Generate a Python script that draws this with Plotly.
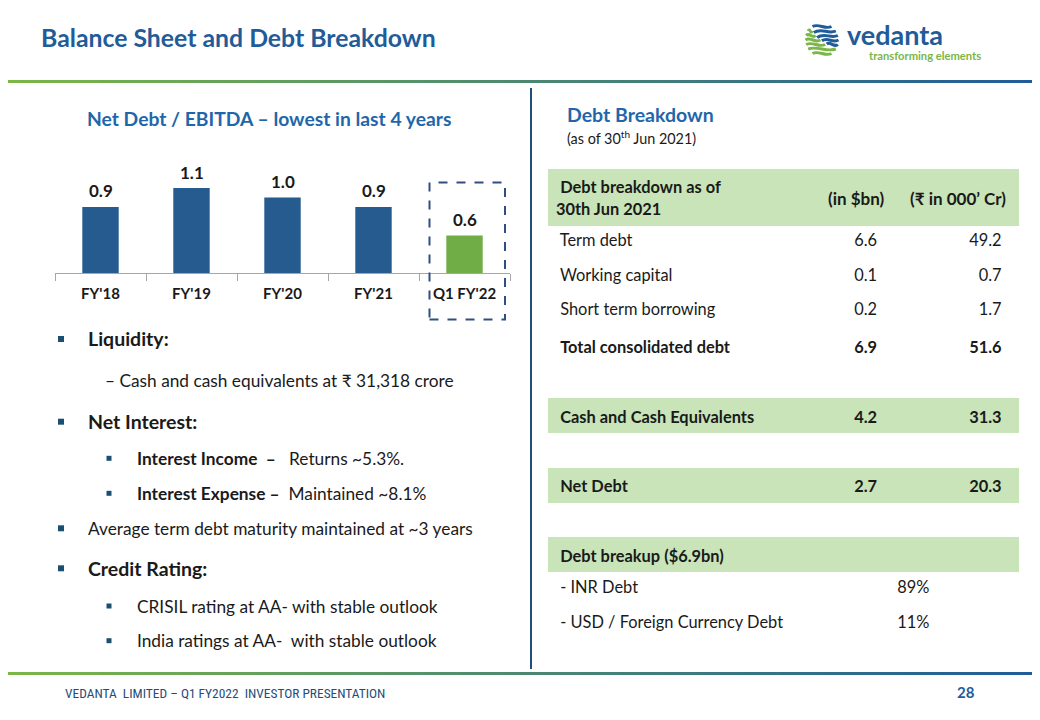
import plotly.graph_objects as go
import math

W, H = 1040, 720
OFF = 8  # page body margin of the html page

# ---------------- data ----------------
slide_title = "Balance Sheet and Debt Breakdown"
chart_title = "Net Debt / EBITDA – lowest in last 4 years"
categories = ["FY'18", "FY'19", "FY'20", "FY'21", "Q1 FY'22"]
net_debt_ebitda = [0.9, 1.1, 1.0, 0.9, 0.6]

bullet_texts = [
    "<b>Liquidity:</b>",
    "– Cash and cash equivalents at ₹ 31,318 crore",
    "<b>Net Interest:</b>",
    "<b>Interest Income \u00a0–</b> \u00a0 Returns ~5.3%.",
    "<b>Interest Expense –</b> \u00a0Maintained ~8.1%",
    "Average term debt maturity maintained at ~3 years",
    "<b>Credit Rating:</b>",
    "CRISIL rating at AA- with stable outlook",
    "India ratings at AA- \u00a0with stable outlook",
]
bullet_levels = [1, 0, 1, 2, 2, 1, 1, 2, 2]  # 0 = dash line (no square)

table_title = "Debt Breakdown"
table_subtitle = "(as of 30<sup>th</sup> Jun 2021)"
table_headers = ["Debt breakdown as of<br>30th Jun 2021", "(in $bn)", "(₹ in 000’ Cr)"]

debt_items = ["Term debt", "Working capital", "Short term borrowing", "Total consolidated debt"]
debt_usd_bn = [6.6, 0.1, 0.2, 6.9]
debt_inr_000cr = [49.2, 0.7, 1.7, 51.6]

cash_label = "Cash and Cash Equivalents"
cash_usd_bn = 4.2
cash_inr_000cr = 31.3

net_debt_label = "Net Debt"
net_debt_usd_bn = 2.7
net_debt_inr_000cr = 20.3

breakup_title = "Debt breakup ($6.9bn)"
breakup_items = ["- INR Debt", "- USD / Foreign Currency Debt"]
breakup_pct = [89, 11]

logo_name = "vedanta"
logo_tagline = "transforming elements"
footer_text = "VEDANTA \u00a0LIMITED – Q1 FY2022 \u00a0INVESTOR PRESENTATION"
page_number = "28"

# ---------------- styles ----------------
BLUE = "#1F5C99"
BAR_BLUE = "#265B8F"
BAR_GREEN = "#70AD47"
GREEN = "#7AB648"
BAND = "#C8E4B8"
TXT = "#1A1A1A"
FONT = "Lato, 'Open Sans', 'DejaVu Sans', sans-serif"
TFS = 16.4  # table font size
NB = "\u00a0"


def px(x):
    return (x - OFF) / W


def py(y):
    return 1 - (y - OFF) / H


fig = go.Figure()
ann = []

# ---------------- bar chart ----------------
ymin = 0.2034
ymax = ymin + 130 / 94.8
bar_colors = [BAR_BLUE] * (len(categories) - 1) + [BAR_GREEN]
fig.add_trace(go.Bar(
    x=categories, y=net_debt_ebitda, marker=dict(color=bar_colors, line=dict(width=0)),
    width=0.4, hoverinfo="skip", showlegend=False, xaxis="x", yaxis="y",
))
for c, v in zip(categories, net_debt_ebitda):
    ann.append(dict(x=c, y=v, xref="x", yref="y", text=f"{v:.1f}", showarrow=False,
                    yshift=16, font=dict(family=FONT, size=17, color=TXT, weight="bold")))

fig.update_layout(
    xaxis=dict(domain=[px(55), px(510)], anchor="y", showline=True, linecolor="#A6A6A6",
               linewidth=1, ticks="outside", tickson="boundaries", ticklen=7,
               tickcolor="#A6A6A6", showgrid=False, zeroline=False, ticklabelstandoff=7,
               tickfont=dict(family=FONT, size=15, color=TXT, weight="bold"), fixedrange=True),
    yaxis=dict(domain=[py(273), py(143)], range=[ymin, ymax], visible=False, fixedrange=True),
)

# ---------------- table ----------------
# columns: label | $bn | share % | Rs 000' Cr
col1, col2, colp, col3, fills = [], [], [], [], []
bold_rows = set()


def add_row(lab, u="", p="", r="", fill="white", bold=False):
    col1.append(lab); col2.append(u); colp.append(p); col3.append(r); fills.append(fill)
    if bold:
        bold_rows.add(len(col1) - 1)


for i, (lab, u, r) in enumerate(zip(debt_items, debt_usd_bn, debt_inr_000cr)):
    add_row(lab, f"{u:.1f}", "", f"{r:.1f}", bold=(i == len(debt_items) - 1))
add_row("")
add_row(cash_label, f"{cash_usd_bn:.1f}", "", f"{cash_inr_000cr:.1f}", BAND, True)
add_row("")
add_row(net_debt_label, f"{net_debt_usd_bn:.1f}", "", f"{net_debt_inr_000cr:.1f}", BAND, True)
add_row("")
add_row(breakup_title, fill=BAND, bold=True)
for lab, p in zip(breakup_items, breakup_pct):
    add_row(lab, "", f"{p}%", "")


def b(s, i):
    return f"<b>{s}</b>" if (i in bold_rows and s) else s


col1 = [NB + b(s, i) for i, s in enumerate(col1)]
col2 = [b(s, i) + NB for i, s in enumerate(col2)]
colp = [b(s, i) or NB for i, s in enumerate(colp)]
col3 = [b(s, i) + NB * 2 for i, s in enumerate(col3)]

fig.add_trace(go.Table(
    domain=dict(x=[px(548), px(1019)], y=[py(648), py(169.3)]),
    columnwidth=[264, 78, 50, 79],
    header=dict(values=[NB + "<b>" + table_headers[0] + "</b>", NB, NB, NB], fill_color=BAND,
                line=dict(width=1, color=BAND), align="left", height=56.4,
                font=dict(family=FONT, size=TFS, color=TXT)),
    cells=dict(values=[col1, col2, colp, col3], fill_color=[fills, fills, fills, fills],
               line=dict(width=1, color=[fills, fills, fills, fills]), height=34.5,
               align=["left", "right", "left", "right"],
               font=dict(family=FONT, size=TFS, color=TXT)),
))

# ---------------- shapes ----------------
shapes = []


def grad_line(y0, y1):
    n = 52
    c0 = (122, 182, 72)
    c1 = (31, 92, 153)
    for i in range(n):
        t = i / (n - 1)
        col = "rgb({},{},{})".format(*[round(a + (bb - a) * t) for a, bb in zip(c0, c1)])
        shapes.append(dict(type="rect", xref="paper", yref="paper", x0=px(i * W / n), x1=px((i + 1) * W / n + 0.5),
                           y0=py(y1), y1=py(y0), fillcolor=col, line=dict(width=0), layer="above"))


grad_line(80, 83)
grad_line(672, 675)

# divider
shapes.append(dict(type="line", xref="paper", yref="paper", x0=px(531), x1=px(531), y0=py(88), y1=py(669),
                   line=dict(color="#1F4E79", width=2)))
# dashed highlight box
shapes.append(dict(type="rect", xref="paper", yref="paper", x0=px(429.5), x1=px(505), y0=py(319.5), y1=py(182.5),
                   line=dict(color="#2F4F80", width=2, dash="dash"), fillcolor="rgba(0,0,0,0)"))

# logo globe: wavy stripes, blue on the upper right, green on the lower left
gcx, gcy, gr = 822, 40, 16.5
stripe_dy = [-13.5, -9, -4.5, 0, 4.5, 9.0, 13.5]
stripe_split = [0.0, 0.15, 0.3, 0.45, 0.6, 1.0, 1.0]  # share of the stripe (from left) drawn green
for dy, sp in zip(stripe_dy, stripe_split):
    w = math.sqrt(max(gr ** 2 - dy ** 2, 0))
    x1, x2 = gcx - w, gcx + w
    y = gcy + dy
    xm = x1 + (x2 - x1) * sp
    segs = []
    if sp > 0:
        segs.append((x1, xm, GREEN))
    if sp < 1:
        segs.append((xm + (1.5 if sp > 0 else 0), x2, BLUE))
    for a, bx, col in segs:
        ww = bx - a
        path = "M {},{} C {},{} {},{} {},{}".format(
            px(a), py(y + 2 * math.sin((a - x1) / 6)), px(a + ww * 0.35), py(y - 3.5),
            px(bx - ww * 0.35), py(y + 3.5), px(bx), py(y))
        shapes.append(dict(type="path", xref="paper", yref="paper", path=path,
                           line=dict(color=col, width=3)))

# bullets
bullet_ys = [339, 380, 421.7, 458.3, 493.3, 528.3, 568.3, 606, 640.7]
for lvl, y in zip(bullet_levels, bullet_ys):
    if lvl == 1:
        cx, s = 61, 6
    elif lvl == 2:
        cx, s = 109, 5
    else:
        continue
    shapes.append(dict(type="rect", xref="paper", yref="paper", x0=px(cx - s / 2), x1=px(cx + s / 2),
                       y0=py(y + s / 2), y1=py(y - s / 2), fillcolor="#1B4F72", line=dict(width=0)))


# ---------------- annotations ----------------
def text(x, y, t, size, color=TXT, anchor="left", weight="normal", family=FONT):
    ann.append(dict(x=px(x), y=py(y), xref="paper", yref="paper", text=t, showarrow=False,
                    xanchor=anchor, yanchor="middle",
                    font=dict(family=family, size=size, color=color, weight=weight)))


text(39, 38, slide_title, 24.8, BLUE, weight="bold")
text(269, 118, chart_title, 19.3, "#1F67AA", anchor="center", weight="bold")
text(565, 114, table_title, 19.5, "#1F67AA", weight="bold")
text(565, 137, table_subtitle, 14.4, TXT)
text(887, 198.5, table_headers[1], 17, TXT, anchor="right", weight="bold")
text(1008, 198.5, table_headers[2], 17, TXT, anchor="right", weight="bold")

bullet_xs = {1: 86, 0: 103, 2: 135}
for t, lvl, y in zip(bullet_texts, bullet_levels, bullet_ys):
    big = t.startswith("<b>") and t.endswith(":</b>")
    text(bullet_xs[lvl], y, t, 19.5 if big else 17.3, TXT)

# logo text
text(845, 35, logo_name, 27, BLUE, weight="bold")
text(867, 56, logo_tagline, 11.2, GREEN, weight="bold")

# footer
text(63, 693, footer_text, 13.4, "#1F4E79", family="'Liberation Sans Narrow', 'Roboto Condensed', sans-serif")
text(977, 692, page_number, 15, BLUE, anchor="right", weight="bold")

fig.update_layout(
    width=W, height=H, margin=dict(l=0, r=0, t=0, b=0),
    paper_bgcolor="white", plot_bgcolor="white",
    shapes=shapes, annotations=ann, showlegend=False, bargap=0.6,
    font=dict(family=FONT),
)

fig.write_html("out.html")
